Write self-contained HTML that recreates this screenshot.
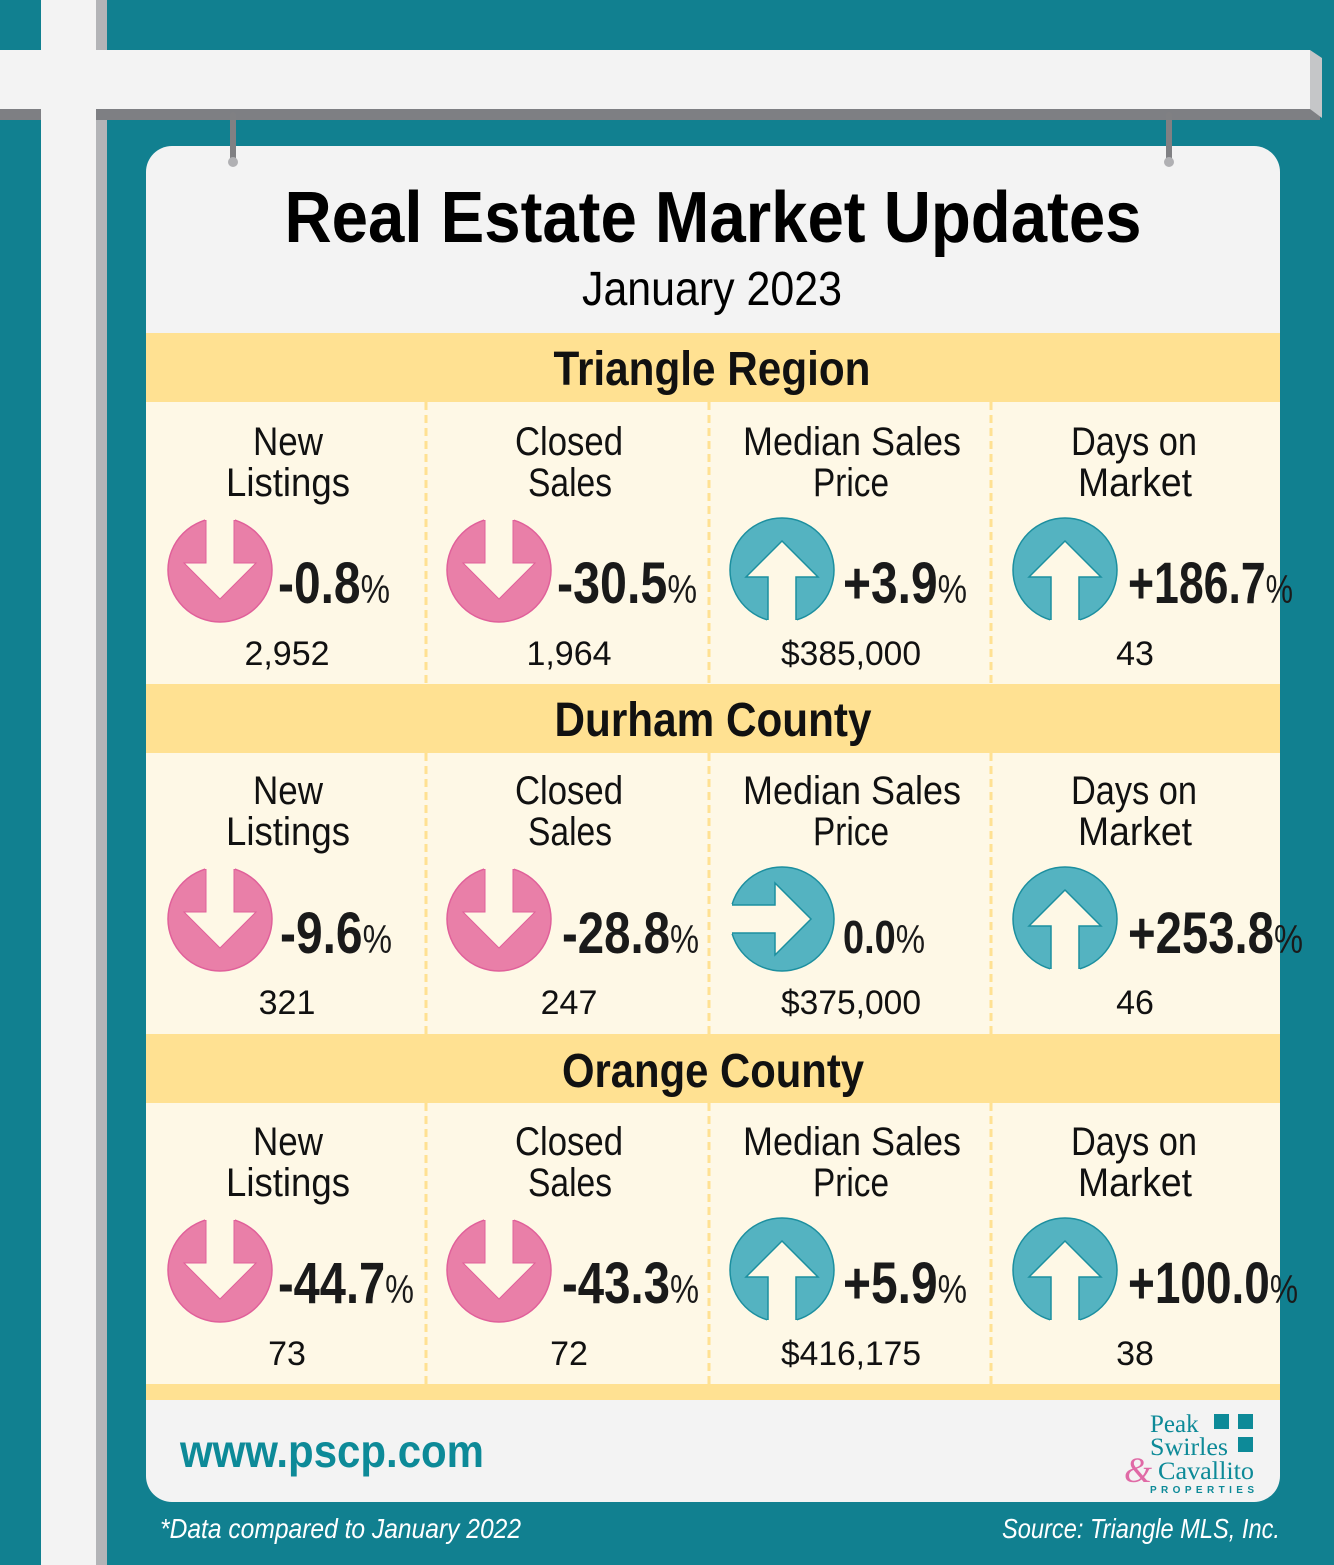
<!DOCTYPE html>
<html><head><meta charset="utf-8"><style>html,body{margin:0;padding:0;background:#118090}svg{display:block}</style></head><body>
<svg width="1334" height="1565" viewBox="0 0 1334 1565" xmlns="http://www.w3.org/2000/svg" font-family="Liberation Sans, sans-serif">
<defs>
<symbol id="dn" viewBox="-55 -55 110 110"><circle r="52" fill="#e97fa8" stroke="#e0609a" stroke-width="1.5"/><polygon points="-14,-60 14,-60 14,-7 36,-7 0,29 -36,-7 -14,-7" fill="#fef8e6" stroke="#e0609a" stroke-width="1"/><rect x="-15" y="-58" width="30" height="8" fill="#fef8e6"/></symbol>
<symbol id="up" viewBox="-55 -55 110 110"><circle r="52" fill="#54b3c1" stroke="#1c8f9f" stroke-width="1.5"/><polygon points="-14,60 14,60 14,7 36,7 0,-29 -36,7 -14,7" fill="#fef8e6" stroke="#1c8f9f" stroke-width="1.5"/><rect x="-15" y="50" width="30" height="8" fill="#fef8e6"/></symbol>
<symbol id="rt" viewBox="-55 -55 110 110"><circle r="52" fill="#54b3c1" stroke="#1c8f9f" stroke-width="1.5"/><polygon points="-60,-14 -60,14 -7,14 -7,36 29,0 -7,-36 -7,-14" fill="#fef8e6" stroke="#1c8f9f" stroke-width="1.5"/><rect x="-58" y="-15" width="8" height="30" fill="#fef8e6"/></symbol>
</defs>
<rect width="1334" height="1565" fill="#118090"/>
<rect x="41" y="0" width="55" height="1565" fill="#f3f3f3"/>
<rect x="96" y="0" width="11" height="1565" fill="#b3b4b7"/>
<rect x="0" y="109" width="1320" height="11" fill="#7e7f83"/>
<rect x="41" y="109" width="55" height="11" fill="#f3f3f3"/>
<rect x="0" y="50" width="1310" height="59" fill="#f3f3f3"/>
<polygon points="1310,50 1322,58 1322,118 1310,109" fill="#c5c6c8"/>
<rect x="146" y="146" width="1134" height="1356" rx="26" fill="#f3f3f3"/>
<rect x="230" y="112" width="6" height="50" rx="3" fill="#808083"/>
<rect x="1166" y="112" width="6" height="50" rx="3" fill="#808083"/>
<circle cx="233" cy="162" r="5" fill="#b0b0b3"/><circle cx="1169" cy="162" r="5" fill="#b0b0b3"/>
<text x="713" y="242" text-anchor="middle" font-size="72" font-weight="bold" textLength="857" lengthAdjust="spacingAndGlyphs">Real Estate Market Updates</text>
<text x="712" y="305" text-anchor="middle" font-size="48" textLength="260" lengthAdjust="spacingAndGlyphs">January 2023</text>
<rect x="146" y="333" width="1134" height="1067" fill="#fef8e6"/>
<rect x="146" y="333" width="1134" height="69" fill="#ffe192"/>
<rect x="146" y="684" width="1134" height="69" fill="#ffe192"/>
<rect x="146" y="1034" width="1134" height="69" fill="#ffe192"/>
<rect x="146" y="1384" width="1134" height="16" fill="#ffe192"/>
<g stroke="#ffe192" stroke-width="3" stroke-dasharray="8 5">
<line x1="426" y1="402" x2="426" y2="684"/><line x1="709" y1="402" x2="709" y2="684"/><line x1="991" y1="402" x2="991" y2="684"/>
<line x1="426" y1="753" x2="426" y2="1034"/><line x1="709" y1="753" x2="709" y2="1034"/><line x1="991" y1="753" x2="991" y2="1034"/>
<line x1="426" y1="1103" x2="426" y2="1384"/><line x1="709" y1="1103" x2="709" y2="1384"/><line x1="991" y1="1103" x2="991" y2="1384"/>
</g>
<g font-weight="bold" font-size="48" text-anchor="middle" fill="#111">
<text x="712" y="385" textLength="317" lengthAdjust="spacingAndGlyphs">Triangle Region</text>
<text x="713" y="736" textLength="317" lengthAdjust="spacingAndGlyphs">Durham County</text>
<text x="713" y="1087" textLength="302" lengthAdjust="spacingAndGlyphs">Orange County</text>
</g>
<g font-size="40" text-anchor="middle" fill="#111">
<g id="lab">
<text x="288" y="455" textLength="70" lengthAdjust="spacingAndGlyphs">New</text>
<text x="288" y="496" textLength="124" lengthAdjust="spacingAndGlyphs">Listings</text>
<text x="569" y="455" textLength="108" lengthAdjust="spacingAndGlyphs">Closed</text>
<text x="570" y="496" textLength="84" lengthAdjust="spacingAndGlyphs">Sales</text>
<text x="852" y="455" textLength="218" lengthAdjust="spacingAndGlyphs">Median Sales</text>
<text x="851" y="496" textLength="76" lengthAdjust="spacingAndGlyphs">Price</text>
<text x="1134" y="455" textLength="126" lengthAdjust="spacingAndGlyphs">Days on</text>
<text x="1135" y="496" textLength="114" lengthAdjust="spacingAndGlyphs">Market</text>
</g>
<use href="#lab" y="349"/>
<use href="#lab" y="700"/>
</g>
<use href="#dn" x="165" y="515" width="110" height="110"/>
<use href="#dn" x="444" y="515" width="110" height="110"/>
<use href="#up" x="727" y="515" width="110" height="110"/>
<use href="#up" x="1010" y="515" width="110" height="110"/>
<use href="#dn" x="165" y="864" width="110" height="110"/>
<use href="#dn" x="444" y="864" width="110" height="110"/>
<use href="#rt" x="727" y="864" width="110" height="110"/>
<use href="#up" x="1010" y="864" width="110" height="110"/>
<use href="#dn" x="165" y="1215" width="110" height="110"/>
<use href="#dn" x="444" y="1215" width="110" height="110"/>
<use href="#up" x="727" y="1215" width="110" height="110"/>
<use href="#up" x="1010" y="1215" width="110" height="110"/>
<g font-size="58" font-weight="bold" fill="#1a1a1a">
<text x="278" y="603" textLength="112" lengthAdjust="spacingAndGlyphs">-0.8<tspan font-size="40" font-weight="normal">%</tspan></text>
<text x="557" y="603" textLength="140" lengthAdjust="spacingAndGlyphs">-30.5<tspan font-size="40" font-weight="normal">%</tspan></text>
<text x="843" y="603" textLength="124" lengthAdjust="spacingAndGlyphs">+3.9<tspan font-size="40" font-weight="normal">%</tspan></text>
<text x="1128" y="603" textLength="165" lengthAdjust="spacingAndGlyphs">+186.7<tspan font-size="40" font-weight="normal">%</tspan></text>
<text x="280" y="953" textLength="112" lengthAdjust="spacingAndGlyphs">-9.6<tspan font-size="40" font-weight="normal">%</tspan></text>
<text x="562" y="953" textLength="137" lengthAdjust="spacingAndGlyphs">-28.8<tspan font-size="40" font-weight="normal">%</tspan></text>
<text x="843" y="953" font-size="46" textLength="82" lengthAdjust="spacingAndGlyphs">0.0<tspan font-size="40" font-weight="normal">%</tspan></text>
<text x="1128" y="953" textLength="175" lengthAdjust="spacingAndGlyphs">+253.8<tspan font-size="40" font-weight="normal">%</tspan></text>
<text x="278" y="1303" textLength="136" lengthAdjust="spacingAndGlyphs">-44.7<tspan font-size="40" font-weight="normal">%</tspan></text>
<text x="562" y="1303" textLength="137" lengthAdjust="spacingAndGlyphs">-43.3<tspan font-size="40" font-weight="normal">%</tspan></text>
<text x="843" y="1303" textLength="124" lengthAdjust="spacingAndGlyphs">+5.9<tspan font-size="40" font-weight="normal">%</tspan></text>
<text x="1128" y="1303" textLength="170" lengthAdjust="spacingAndGlyphs">+100.0<tspan font-size="40" font-weight="normal">%</tspan></text>
</g>
<g font-size="34" text-anchor="middle" fill="#111">
<text x="287" y="665">2,952</text><text x="569" y="665">1,964</text><text x="851" y="665" textLength="140" lengthAdjust="spacingAndGlyphs">$385,000</text><text x="1135" y="665">43</text>
<text x="287" y="1014">321</text><text x="569" y="1014">247</text><text x="851" y="1014" textLength="140" lengthAdjust="spacingAndGlyphs">$375,000</text><text x="1135" y="1014">46</text>
<text x="287" y="1365">73</text><text x="569" y="1365">72</text><text x="851" y="1365" textLength="140" lengthAdjust="spacingAndGlyphs">$416,175</text><text x="1135" y="1365">38</text>
</g>
<text x="180" y="1467" font-size="46" font-weight="bold" fill="#0d8a98" textLength="304" lengthAdjust="spacingAndGlyphs">www.pscp.com</text>
<g font-family="Liberation Serif, serif" fill="#0d8a98">
<text x="1150" y="1432" font-size="25">Peak</text>
<text x="1150" y="1455" font-size="25" textLength="78" lengthAdjust="spacingAndGlyphs">Swirles</text>
<text x="1158" y="1479" font-size="25" textLength="96" lengthAdjust="spacingAndGlyphs">Cavallito</text>
<text x="1124" y="1482" font-size="36" fill="#e06aa6" font-style="italic">&amp;</text>
<text x="1150" y="1493" font-size="10" font-family="Liberation Sans, sans-serif" font-weight="bold" textLength="104" lengthAdjust="spacing">PROPERTIES</text>
<rect x="1214" y="1414" width="15" height="15"/><rect x="1238" y="1414" width="15" height="15"/><rect x="1238" y="1437" width="15" height="15"/>
</g>
<g font-size="28" font-style="italic" fill="#fff">
<text x="160" y="1538" textLength="361" lengthAdjust="spacingAndGlyphs">*Data compared to January 2022</text>
<text x="1280" y="1538" text-anchor="end" textLength="278" lengthAdjust="spacingAndGlyphs">Source: Triangle MLS, Inc.</text>
</g>
</svg>
</body></html>
